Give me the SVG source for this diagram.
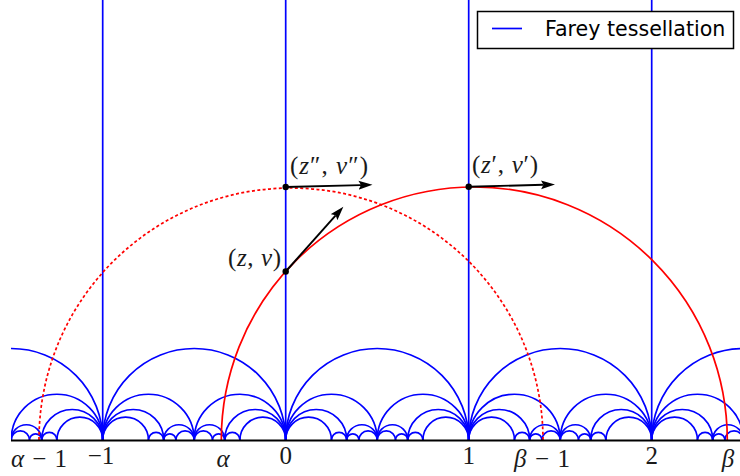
<svg xmlns="http://www.w3.org/2000/svg" xmlns:xlink="http://www.w3.org/1999/xlink" width="740" height="476" viewBox="0 0 740 476">
<style>
.farey{fill:none;stroke:#0000ff;stroke-width:1.7}
.red{fill:none;stroke:#ff0000;stroke-width:1.7}
.reddot{fill:none;stroke:#ff0000;stroke-width:1.7;stroke-dasharray:3 2.4}
.vec{stroke:#000;stroke-width:1.9;fill:none;marker-end:url(#head)}
.pt{fill:#000}
.math{font-family:"Liberation Serif","Times New Roman",serif;font-size:25px;fill:#1a1a1a}
.it{font-style:italic}
.legend{font-family:"DejaVu Sans",sans-serif;font-size:20.6px;fill:#000}
</style>
<defs>
<clipPath id="plot"><rect x="11" y="-5" width="740" height="446"/></clipPath>
<marker id="head" markerUnits="userSpaceOnUse" markerWidth="16" markerHeight="10" refX="2.5" refY="4.5" orient="auto" viewBox="0 0 16 9">
<path d="M0 0 L14 4.5 L0 9 L2.5 4.5 Z" fill="#000"/>
</marker>
<g id="unit" class="farey">
<path d="M0 0A91.5 91.5 0 0 1 183 0"/>
<path d="M0 0A45.75 45.75 0 0 1 91.5 0"/>
<path d="M91.5 0A45.75 45.75 0 0 1 183 0"/>
<path d="M0 0A30.5 30.5 0 0 1 61 0"/>
<path d="M61 0A15.25 15.25 0 0 1 91.5 0"/>
<path d="M91.5 0A15.25 15.25 0 0 1 122 0"/>
<path d="M122 0A30.5 30.5 0 0 1 183 0"/>
<path d="M0 0A22.875 22.875 0 0 1 45.75 0"/>
<path d="M45.75 0A7.625 7.625 0 0 1 61 0"/>
<path d="M61 0A6.1 6.1 0 0 1 73.2 0"/>
<path d="M73.2 0A9.15 9.15 0 0 1 91.5 0"/>
<path d="M91.5 0A9.15 9.15 0 0 1 109.8 0"/>
<path d="M109.8 0A6.1 6.1 0 0 1 122 0"/>
<path d="M122 0A7.625 7.625 0 0 1 137.25 0"/>
<path d="M137.25 0A22.875 22.875 0 0 1 183 0"/>
</g>
</defs>
<rect width="740" height="476" fill="#fff"/>
<g id="tessellation" clip-path="url(#plot)">
<use xlink:href="#unit" href="#unit" x="-80.3" y="440"/>
<use xlink:href="#unit" href="#unit" x="102.7" y="440"/>
<use xlink:href="#unit" href="#unit" x="285.7" y="440"/>
<use xlink:href="#unit" href="#unit" x="468.7" y="440"/>
<use xlink:href="#unit" href="#unit" x="651.7" y="440"/>
<path class="farey" d="M102.7 0V440M285.7 0V440M468.7 0V440M651.7 0V440"/>
</g>
<g id="geodesics" clip-path="url(#plot)">
<path id="geodesic-dotted" class="reddot" d="M39 440A252 252 0 0 1 543 440"/>
<path id="geodesic-solid" class="red" d="M221.3 440A253 253 0 0 1 727.3 440"/>
</g>
<path id="axis" d="M11 440.5H740" stroke="#000" stroke-width="2"/>
<g id="connectors">
<path class="vec" d="M285.7 187L361 185.1"/>
<path class="vec" d="M468.7 186.7L543.5 184.8"/>
<path class="vec" d="M285.7 271.5L335.7 215.3"/>
</g>
<g id="point-zv2"><circle class="pt" cx="285.7" cy="187" r="3.2"/>
<text class="math" x="290" y="173.5" textLength="78" lengthAdjust="spacing">(<tspan class="it">z</tspan>″, <tspan class="it">v</tspan>″)</text></g>
<g id="point-zv1"><circle class="pt" cx="468.7" cy="186.7" r="3.2"/>
<text class="math" x="472" y="173" textLength="66" lengthAdjust="spacing">(<tspan class="it">z</tspan>′, <tspan class="it">v</tspan>′)</text></g>
<g id="point-zv"><circle class="pt" cx="285.7" cy="271.5" r="3.2"/>
<text class="math" x="228" y="265.5" textLength="53" lengthAdjust="spacing">(<tspan class="it">z</tspan>, <tspan class="it">v</tspan>)</text></g>
<g id="ticklabels" class="math">
<text x="11" y="466.5" textLength="56" lengthAdjust="spacing"><tspan class="it">α</tspan> − 1</text>
<text x="101" y="463.5" text-anchor="middle">−1</text>
<text x="223" y="466.5" class="it" text-anchor="middle">α</text>
<text x="285.7" y="463.5" text-anchor="middle">0</text>
<text x="468.7" y="463.5" text-anchor="middle">1</text>
<text x="514" y="466.5" textLength="56" lengthAdjust="spacing"><tspan class="it">β</tspan> − 1</text>
<text x="651.7" y="463.5" text-anchor="middle">2</text>
<text x="728" y="466.5" class="it" text-anchor="middle">β</text>
</g>
<g id="legend">
<rect x="477.5" y="11.5" width="256" height="37" fill="#fff" stroke="#000" stroke-width="1.5"/>
<path d="M492 28.5H522" class="farey"/>
<text class="legend" x="545" y="35.7">Farey tessellation</text>
</g>
</svg>
